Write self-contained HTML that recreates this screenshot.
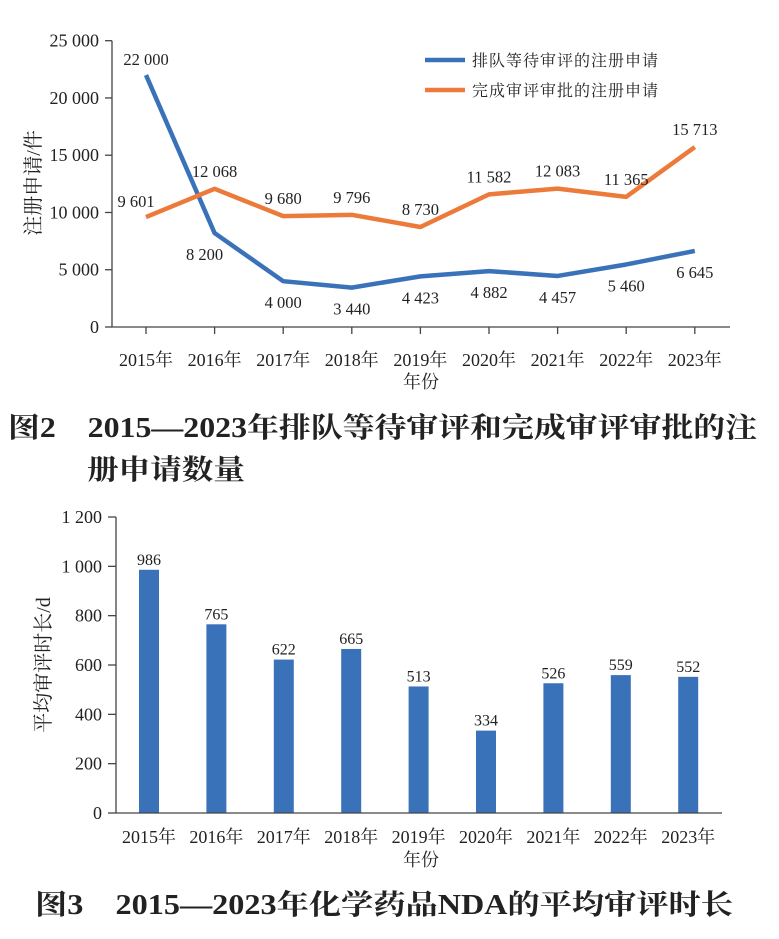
<!DOCTYPE html>
<html><head><meta charset="utf-8"><style>
body{margin:0;background:#fff;}
svg text{font-family:"Liberation Serif","Noto Serif CJK SC",serif;fill:#222;}
.cap{font-family:"Liberation Serif","Noto Serif CJK SC",serif;font-size:28px;font-weight:bold;fill:#222;}
</style></head><body>
<svg id="s" width="779" height="934" viewBox="0 0 779 934" xmlns="http://www.w3.org/2000/svg">
<text class="cap" x="8" y="437" textLength="749" lengthAdjust="spacingAndGlyphs">图2　2015—2023年排队等待审评和完成审评审批的注</text>
<text class="cap" x="87" y="479" textLength="158" lengthAdjust="spacingAndGlyphs">册申请数量</text>
<text class="cap" x="35" y="914" textLength="698" lengthAdjust="spacingAndGlyphs">图3　2015—2023年化学药品NDA的平均审评时长</text>
</svg>
<script>
const years=["2015年","2016年","2017年","2018年","2019年","2020年","2021年","2022年","2023年"];
const pending=[22000,8200,4000,3440,4423,4882,4457,5460,6645];
const completed=[9601,12068,9680,9796,8730,11582,12083,11365,15713];
const pendingLabels=["22 000","8 200","4 000","3 440","4 423","4 882","4 457","5 460","6 645"];
const completedLabels=["9 601","12 068","9 680","9 796","8 730","11 582","12 083","11 365","15 713"];
const lineTicks=[0,5000,10000,15000,20000,25000];
const lineTickLabels=["0","5 000","10 000","15 000","20 000","25 000"];
const durations=[986,765,622,665,513,334,526,559,552];
const barTicks=[0,200,400,600,800,1000,1200];
const barTickLabels=["0","200","400","600","800","1 000","1 200"];

const s=document.getElementById('s');
const NS="http://www.w3.org/2000/svg";
function mk(tag,attrs,parent){const e=document.createElementNS(NS,tag);for(const k in attrs)e.setAttribute(k,attrs[k]);(parent||s).appendChild(e);return e;}
function txt(x,y,t,size,anchor,parent){const e=mk('text',{x:x,y:y,'font-size':size,'text-anchor':anchor||'middle'},parent);e.textContent=t;return e;}

// ---- line chart
const g1=mk('g',{});


const ly=v=>327-(v/25000)*286.3;
const lx=i=>146+i*68.6;
const ax1=mk('path',{d:'M112 40.7V327H730',stroke:'#444','stroke-width':1.3,fill:'none'},g1);


lineTicks.forEach((v,i)=>{
  mk('line',{x1:105,x2:112,y1:ly(v),y2:ly(v),stroke:'#444','stroke-width':1.3},g1);
  const t=txt(99,ly(v)+6,lineTickLabels[i],18,'end',g1);
  
  
});
years.forEach((y,i)=>{
  mk('line',{x1:lx(i),x2:lx(i),y1:327,y2:334,stroke:'#444','stroke-width':1.3},g1);
  const t=txt(lx(i),366,y,18,'middle',g1);
  
  
});
const xt=txt(421,388,'年份',18,'middle',g1);


const yt=txt(0,0,'注册申请/件',20,'middle',g1);
yt.setAttribute('transform','translate(40,183) rotate(-90)');


const pl=mk('polyline',{points:pending.map((v,i)=>lx(i)+','+ly(v)).join(' '),stroke:'#3a72b9','stroke-width':4.5,fill:'none','stroke-linejoin':'round'},g1);


const cl=mk('polyline',{points:completed.map((v,i)=>lx(i)+','+ly(v)).join(' '),stroke:'#ec7b3b','stroke-width':4.5,fill:'none','stroke-linejoin':'round'},g1);


pending.forEach((v,i)=>{
  const dy=i===0?-10:27;
  const t=txt(lx(i)+(i===1?-10:0),ly(v)+dy,pendingLabels[i],16.5,'middle',g1);
  
  
});
completed.forEach((v,i)=>{
  const dx=i===0?-10:0;
  const dy=i===0?-10:-12;
  const t=txt(lx(i)+dx,ly(v)+dy,completedLabels[i],16.5,'middle',g1);
  
  
});
const lg=mk('g',{},g1);


mk('line',{x1:425,x2:465,y1:60,y2:60,stroke:'#3a72b9','stroke-width':4.5},lg);
mk('line',{x1:425,x2:465,y1:90,y2:90,stroke:'#ec7b3b','stroke-width':4.5},lg);
const l1=txt(472,66,'排队等待审评的注册申请',16,'start',lg);
l1.setAttribute('textLength','186');


const l2=txt(472,96,'完成审评审批的注册申请',16,'start',lg);
l2.setAttribute('textLength','186');



// ---- bar chart
const g2=mk('g',{});


const by=v=>813-(v/1200)*296;
const bx=i=>149+i*67.4;
barTicks.forEach((v,i)=>{
  mk('line',{x1:108,x2:116,y1:by(v),y2:by(v),stroke:'#444','stroke-width':1.3},g2);
  const t=txt(102,by(v)+6,barTickLabels[i],18,'end',g2);
  
  
});
durations.forEach((v,i)=>{
  const r=mk('rect',{x:bx(i)-10,y:by(v),width:20,height:813-by(v),fill:'#3a72b9'},g2);
  
  
  const t=txt(bx(i),by(v)-5,String(v),16,'middle',g2);
  
  
  const xl=txt(bx(i),843,years[i],18,'middle',g2);
  
  
});
const ax2=mk('path',{d:'M116 517V813H722',stroke:'#444','stroke-width':1.3,fill:'none'},g2);


const xt2=txt(421,866,'年份',18,'middle',g2);


const yt2=txt(0,0,'平均审评时长/d',20,'middle',g2);
yt2.setAttribute('transform','translate(50,665) rotate(-90)');


</script>
</body></html>
